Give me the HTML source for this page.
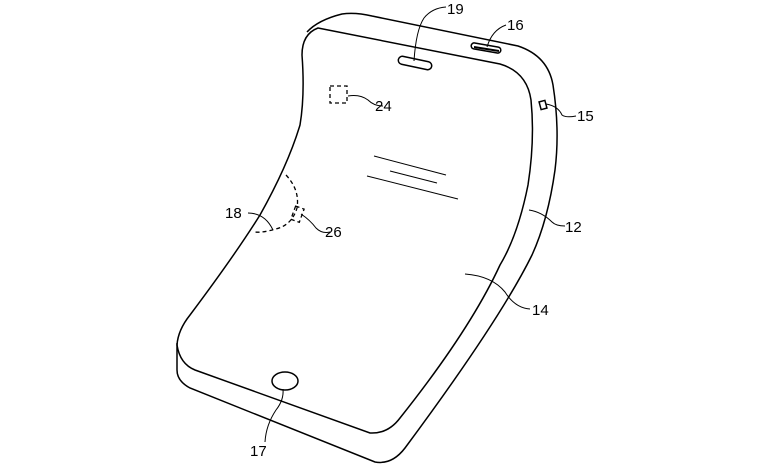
<!DOCTYPE html>
<html><head><style>
html,body{margin:0;padding:0;background:#fff;}
svg{display:block;}
text{font-family:"Liberation Sans",sans-serif;font-size:15px;fill:#000;}
</style></head><body>
<svg width="777" height="476" viewBox="0 0 777 476" xmlns="http://www.w3.org/2000/svg">
<g fill="none" stroke="#000" stroke-width="1.5">
<path d="M318,28 L500,64 Q527,72 531,100 Q535,140 528,185 Q518,235 500,265 Q470,330 400,418 Q388,434 370,433 L195,370 Q180,364 177,345 Q178,330 190,315 Q235,255 260,215 Q288,165 300,125 Q305,95 302,55 Q302,34 318,28 Z"/>
<path d="M307,32 Q318,20 342,14 Q355,12 372,16 L518,46 Q548,56 553,85 Q560,130 555,170 Q548,220 532,255 Q500,320 405,448 Q392,465 375,462 L190,388 Q177,381 177,370 L177,343"/>
<rect x="398" y="59" width="34" height="8" rx="4" transform="rotate(12 415 63)"/>
<rect x="471" y="45" width="30" height="6" rx="3" transform="rotate(10 486 48)"/>
<path d="M474,47 L499,51" stroke-width="2"/>
<rect x="540" y="101" width="6" height="8" transform="rotate(-15 543 105)"/>
<ellipse cx="285" cy="381" rx="13" ry="9"/>
</g>
<g fill="none" stroke="#000" stroke-width="1">
<path d="M374,156 L446,175 M390,171 L437,183 M367,176 L458,199"/>
<path d="M414,61 Q416,30 424,18 Q432,8 446,7"/>
<path d="M487,47 Q492,30 506,25"/>
<path d="M546,104 Q558,106 562,115 Q566,118 576,116"/>
<path d="M348,96 Q360,94 368,100 Q374,106 383,106"/>
<path d="M529,210 Q542,212 552,222 Q556,226 565,226"/>
<path d="M465,274 Q492,276 505,292 Q515,308 530,309"/>
<path d="M248,213 Q265,213 273,230"/>
<path d="M301,214 Q310,220 316,228 Q322,234 330,232"/>
<path d="M283,389 Q284,400 276,410 Q266,425 265,442"/>
</g>
<g fill="none" stroke="#000" stroke-width="1.3" stroke-dasharray="4,3">
<rect x="330" y="86" width="17" height="17"/>
<path d="M286,175 Q300,190 297,208 Q292,225 276,229 Q262,233 255,232"/>
<rect x="293" y="207" width="9" height="14" transform="rotate(20 297 214)"/>
</g>
<text x="447" y="14">19</text>
<text x="507" y="30">16</text>
<text x="577" y="121">15</text>
<text x="375" y="111">24</text>
<text x="565" y="232">12</text>
<text x="532" y="315">14</text>
<text x="225" y="218">18</text>
<text x="325" y="237">26</text>
<text x="250" y="456">17</text>
</svg>
</body></html>
